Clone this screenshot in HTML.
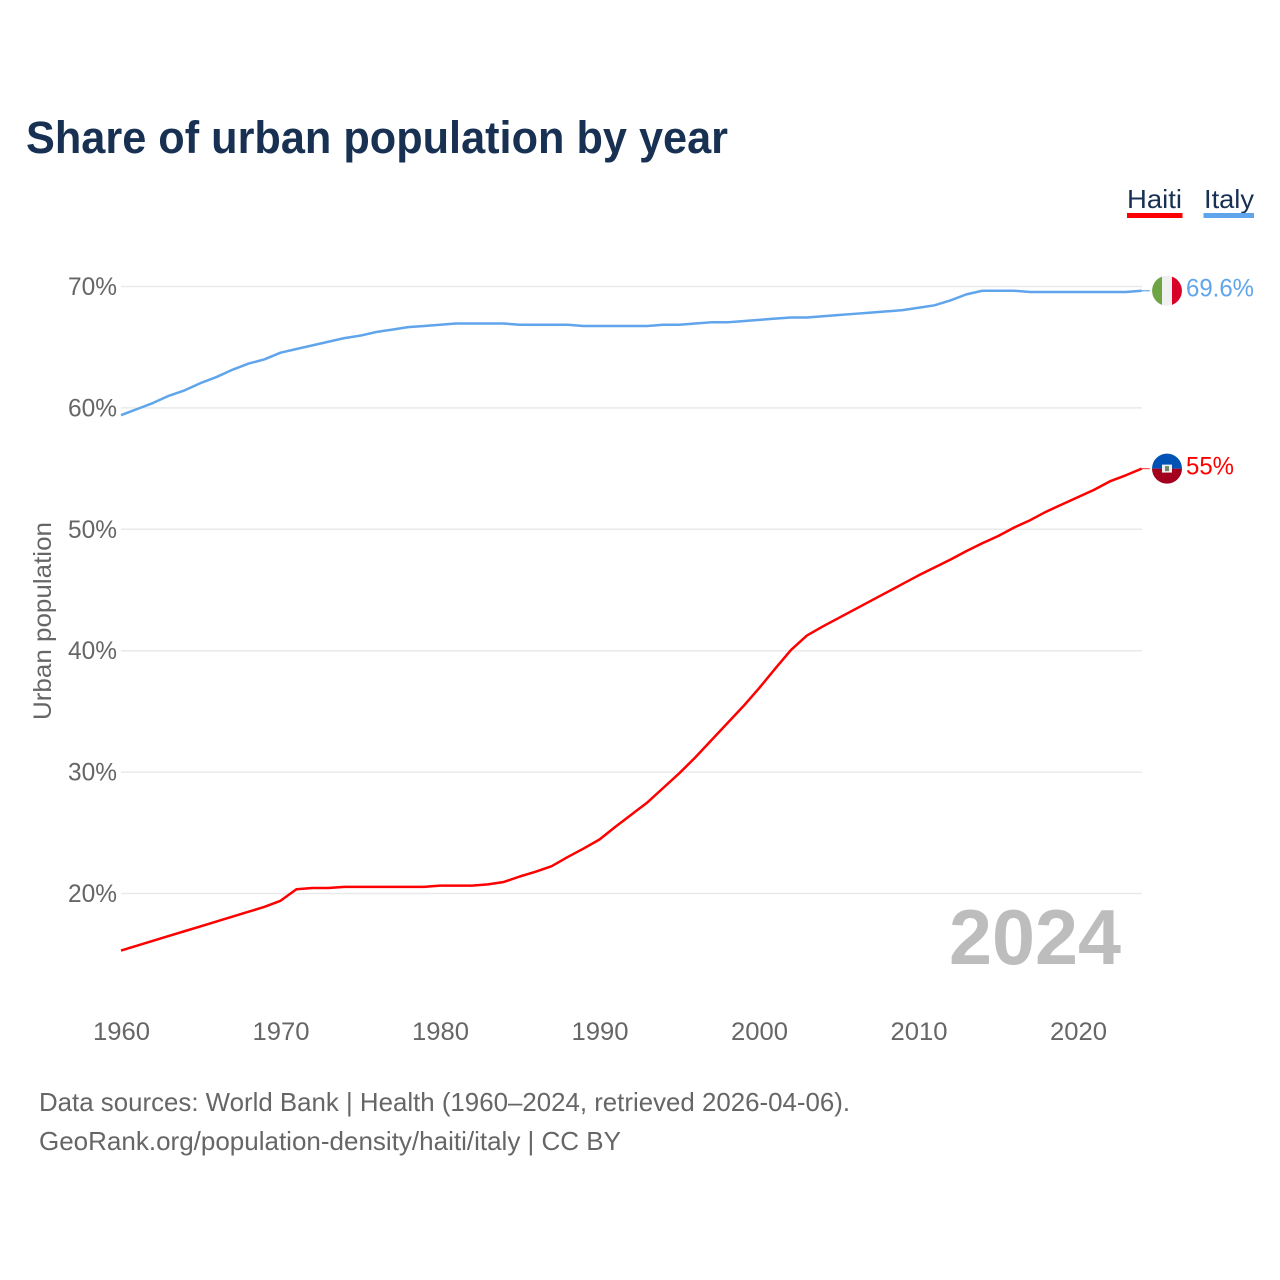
<!DOCTYPE html>
<html>
<head>
<meta charset="utf-8">
<title>Share of urban population by year</title>
<style>
html,body{margin:0;padding:0;background:#fff;}
svg{display:block;font-family:"Liberation Sans",sans-serif;}
</style>
</head>
<body>
<svg id="chart" width="1280" height="1280" viewBox="0 0 1280 1280" xmlns="http://www.w3.org/2000/svg">
  <text x="26" y="153" font-size="45" font-weight="700" fill="#183153" textLength="702" lengthAdjust="spacingAndGlyphs">Share of urban population by year</text>

  <g>
    <text x="1127" y="208" font-size="26" fill="#183153" textLength="55" lengthAdjust="spacingAndGlyphs">Haiti</text>
    <rect x="1127" y="213" width="55.5" height="5" fill="#ff0000"/>
  </g>
  <g>
    <text x="1204" y="208" font-size="26" fill="#183153" textLength="50" lengthAdjust="spacingAndGlyphs">Italy</text>
    <rect x="1203.5" y="213" width="50.5" height="5" fill="#60a5ec"/>
  </g>

  <g id="grid"></g>
  <g id="yticks"></g>
  <g id="xticks"></g>

  <text transform="translate(51,621) rotate(-90)" text-anchor="middle" font-size="25" fill="#666666" textLength="198" lengthAdjust="spacingAndGlyphs">Urban population</text>

  <text x="949" y="964" font-size="78" font-weight="700" fill="#bdbdbd" textLength="172" lengthAdjust="spacingAndGlyphs">2024</text>

  <g id="series"></g>
  <g id="ends"></g>

  <text x="39" y="1111" font-size="26" fill="#666666" textLength="811" lengthAdjust="spacingAndGlyphs">Data sources: World Bank | Health (1960–2024, retrieved 2026-04-06).</text>
  <text x="39" y="1150" font-size="26" fill="#666666" textLength="582" lengthAdjust="spacingAndGlyphs">GeoRank.org/population-density/haiti/italy | CC BY</text>
</svg>

<script>
const startYear = 1960;
const xTickYears = [1960, 1970, 1980, 1990, 2000, 2010, 2020];
const yTickValues = [20, 30, 40, 50, 60, 70];
const haitiValues = [
  15.3, 15.7, 16.1, 16.5, 16.9, 17.3, 17.7, 18.1, 18.5, 18.9,
  19.4, 20.35, 20.45, 20.45, 20.55, 20.55, 20.55, 20.55, 20.55, 20.55,
  20.65, 20.65, 20.65, 20.75, 20.95, 21.4, 21.8, 22.25, 23.0, 23.7,
  24.45, 25.5, 26.5, 27.5, 28.7, 29.9, 31.2, 32.6, 34.0, 35.4,
  36.9, 38.5, 40.05, 41.25, 42.0, 42.7, 43.4, 44.1, 44.8, 45.5,
  46.2, 46.85, 47.5, 48.2, 48.85, 49.45, 50.15, 50.75, 51.45, 52.05,
  52.65, 53.25, 53.95, 54.45, 55.0
];
const italyValues = [
  59.4, 59.9, 60.4, 61.0, 61.45, 62.05, 62.55, 63.15, 63.65, 64.0,
  64.55, 64.85, 65.15, 65.45, 65.75, 65.95, 66.25, 66.45, 66.65, 66.75,
  66.85, 66.95, 66.95, 66.95, 66.95, 66.85, 66.85, 66.85, 66.85, 66.75,
  66.75, 66.75, 66.75, 66.75, 66.85, 66.85, 66.95, 67.05, 67.05, 67.15,
  67.25, 67.35, 67.45, 67.45, 67.55, 67.65, 67.75, 67.85, 67.95, 68.05,
  68.25, 68.45, 68.85, 69.35, 69.65, 69.65, 69.65, 69.55, 69.55, 69.55,
  69.55, 69.55, 69.55, 69.55, 69.65
];
const haitiEndLabel = "55%";
const italyEndLabel = "69.6%";

const NS = "http://www.w3.org/2000/svg";
const xScale = function (year) { return 121 + (year - 1960) * 15.95; };
const yScale = function (value) { return 286.5 + (70 - value) * 12.14; };

function make(tag, attrs, parent, text) {
  const el = document.createElementNS(NS, tag);
  for (const k in attrs) el.setAttribute(k, attrs[k]);
  if (text !== undefined) el.textContent = text;
  parent.appendChild(el);
  return el;
}

const grid = document.getElementById("grid");
const yticks = document.getElementById("yticks");
const xticks = document.getElementById("xticks");
const series = document.getElementById("series");
const ends = document.getElementById("ends");

yTickValues.forEach(function (v) {
  const line = make("line", { x1: 121, x2: 1142, y1: yScale(v), y2: yScale(v), stroke: "#e9e9e9", "stroke-width": 1.5 }, grid);
  
  
  const label = make("text", { x: 68, y: yScale(v) + 8.5, "font-size": 25, fill: "#666666", textLength: 49, lengthAdjust: "spacingAndGlyphs" }, yticks, v + "%");
  
  
});

xTickYears.forEach(function (yr) {
  const label = make("text", { x: xScale(yr) - 28, y: 1040, "font-size": 25, fill: "#666666", textLength: 57, lengthAdjust: "spacingAndGlyphs" }, xticks, String(yr));
  
  
});

function pathFrom(values) {
  return values.map(function (v, i) {
    return (i ? "L" : "M") + xScale(startYear + i).toFixed(2) + " " + yScale(v).toFixed(2);
  }).join(" ");
}

const italyLine = make("path", { d: pathFrom(italyValues), fill: "none", stroke: "#60a5ec", "stroke-width": 2.5, "stroke-linejoin": "round" }, series);


const haitiLine = make("path", { d: pathFrom(haitiValues), fill: "none", stroke: "#ff0000", "stroke-width": 2.5, "stroke-linejoin": "round" }, series);



const lastX = xScale(startYear + italyValues.length - 1);
const italyY = yScale(italyValues[italyValues.length - 1]);
const haitiY = yScale(haitiValues[haitiValues.length - 1]);

const italyLead = make("line", { x1: lastX, x2: lastX + 8, y1: italyY, y2: italyY, stroke: "#60a5ec", "stroke-width": 1.2 }, ends);


const haitiLead = make("line", { x1: lastX, x2: lastX + 8, y1: haitiY, y2: haitiY, stroke: "#ff5050", "stroke-width": 1.2 }, ends);



/* Italy flag */
const itCx = 1167, r = 15;
const itFlag = make("g", {}, ends);


make("circle", { cx: itCx, cy: italyY, r: r, fill: "#f0f0f0" }, itFlag);
make("path", { d: "M" + (itCx - 5) + " " + (italyY - 14.1) + " A15 15 0 0 0 " + (itCx - 5) + " " + (italyY + 14.1) + " Z", fill: "#6da544" }, itFlag);
make("path", { d: "M" + (itCx + 5) + " " + (italyY - 14.1) + " A15 15 0 0 1 " + (itCx + 5) + " " + (italyY + 14.1) + " Z", fill: "#d80027" }, itFlag);

/* Haiti flag */
const htFlag = make("g", {}, ends);


make("path", { d: "M" + (itCx - r) + " " + haitiY + " A15 15 0 0 1 " + (itCx + r) + " " + haitiY + " Z", fill: "#0052b4" }, htFlag);
make("path", { d: "M" + (itCx - r) + " " + haitiY + " A15 15 0 0 0 " + (itCx + r) + " " + haitiY + " Z", fill: "#a2001d" }, htFlag);
make("rect", { x: itCx - 5, y: haitiY - 4, width: 10, height: 8, fill: "#f0f0f0" }, htFlag);
make("rect", { x: itCx - 2, y: haitiY - 2.5, width: 4, height: 5, fill: "#6d8a6a" }, htFlag);

const italyText = make("text", { x: 1186, y: italyY + 6, "font-size": 25, fill: "#60a5ec", textLength: 68, lengthAdjust: "spacingAndGlyphs" }, ends, italyEndLabel);


const haitiText = make("text", { x: 1186, y: haitiY + 6, "font-size": 25, fill: "#ff0000", textLength: 48, lengthAdjust: "spacingAndGlyphs" }, ends, haitiEndLabel);


</script>
</body>
</html>
